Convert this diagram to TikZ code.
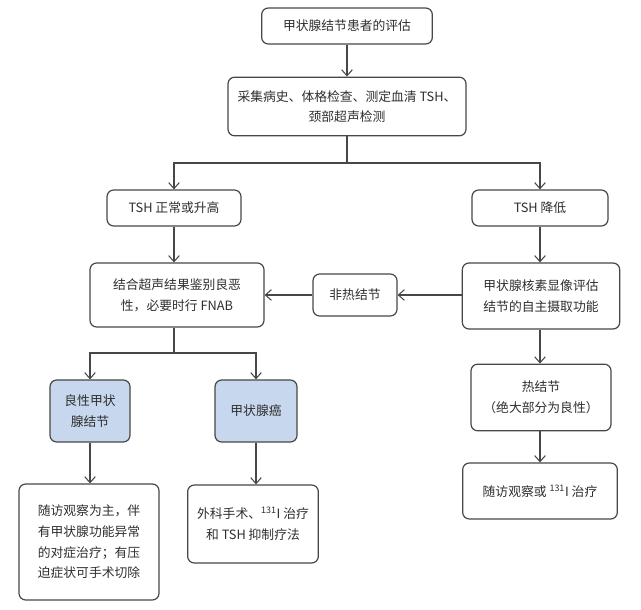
\documentclass[tikz,border=0pt]{standalone}
\usepackage{fontspec}
\newfontfamily\cjk{Noto Sans CJK SC}
\usetikzlibrary{arrows.meta}

\begin{document}
\begin{tikzpicture}[x=0.75pt, y=-0.75pt, >={Straight Barb[length=4.5pt,width=8pt]},
  box/.style={draw=linecol, line width=0.9pt, rounded corners=5pt, align=center,
    inner sep=0pt, text=textcol, font=\cjk\fontsize{9.6pt}{15.5pt}\selectfont},
  bluebox/.style={box, fill=bluefill},
  link/.style={draw=linecol, line width=0.8pt}]

  % Colors
  \colorlet{linecol}{black!72}
  \colorlet{textcol}{black!82}
  \definecolor{bluefill}{RGB}{199,216,238}

  \useasboundingbox (0,0) rectangle (641,609);

  % Top of the chart
  \node[box, minimum width=128pt, minimum height=27pt] (eval) at (347,26) {甲状腺结节患者的评估};
  \node[box, minimum width=178.5pt, minimum height=44pt] (exam) at (347,106.5)
    {采集病史、体格检查、测定血清 TSH、\\颈部超声检测};

  % TSH branches
  \node[box, minimum width=100.5pt, minimum height=27pt] (tshnorm) at (174,208) {TSH 正常或升高};
  \node[box, minimum width=102pt, minimum height=27pt] (tshlow) at (540,208) {TSH 降低};

  % Middle row
  \node[box, minimum width=130.5pt, minimum height=48pt] (fnab) at (177,295)
    {结合超声结果鉴别良恶\\性，必要时行 FNAB};
  \node[box, minimum width=63pt, minimum height=31.5pt] (nonhot) at (355,295) {非热结节};
  \node[box, minimum width=118pt, minimum height=49.5pt] (scan) at (541,296)
    {甲状腺核素显像评估\\结节的自主摄取功能};

  % Diagnosis
  \node[bluebox, minimum width=60pt, minimum height=46.5pt] (benign) at (90,411) {良性甲状\\腺结节};
  \node[bluebox, minimum width=61.5pt, minimum height=46.5pt] (cancer) at (256,411) {甲状腺癌};
  \node[box, minimum width=105pt, minimum height=50pt] (hot) at (541,397.5) {热结节\\（绝大部分为良性）};

  % Treatment
  \node[box, minimum width=105pt, minimum height=87pt] (treatben) at (89,542)
    {随访观察为主，伴\\有甲状腺功能异常\\的对症治疗；有压\\迫症状可手术切除};
  \node[box, minimum width=98pt, minimum height=58.5pt] (treatcan) at (253,524)
    {外科手术、\textsuperscript{131}I 治疗\\和 TSH 抑制疗法};
  \node[box, minimum width=116pt, minimum height=42pt] (treathot) at (540,491)
    {随访观察或 \textsuperscript{131}I 治疗};

  % Split points
  \coordinate (split1) at (347,163);
  \coordinate (split2) at (174,353);

  % Connectors
  \draw[link, ->] (eval) -- (exam);
  \draw[link] (exam) -- (split1);
  \draw[link, ->] (split1) -| (tshnorm);
  \draw[link, ->] (split1) -| (tshlow);
  \draw[link, ->] (tshnorm.south) -- (tshnorm.south |- fnab.north);
  \draw[link, ->] (tshlow) -- (tshlow |- scan.north);
  \draw[link, ->] (scan.west |- nonhot) -- (nonhot);
  \draw[link, ->] (nonhot) -- (fnab.east |- nonhot);
  \draw[link] (fnab.south -| split2) -- (split2);
  \draw[link, ->] (split2) -| (benign);
  \draw[link, ->] (split2) -| (cancer);
  \draw[link, ->] (benign) -- (benign |- treatben.north);
  \draw[link, ->] (cancer) -- (cancer |- treatcan.north);
  \draw[link, ->] (scan.south -| tshlow) -- (tshlow |- hot.north);
  \draw[link, ->] (hot.south -| tshlow) -- (tshlow |- treathot.north);

\end{tikzpicture}
\end{document}
